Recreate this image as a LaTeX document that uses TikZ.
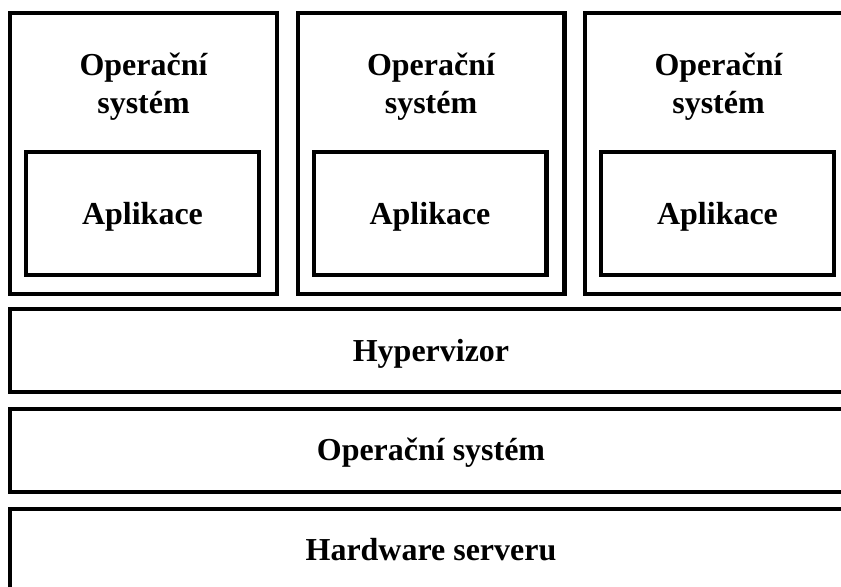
\documentclass[tikz,border=0pt]{standalone}
\usepackage{fontspec}
\setmainfont{Liberation Serif}
\usepackage{tikz}
\usetikzlibrary{positioning}

\tikzset{
  layerbox/.style={draw=black,line width=2.3pt,minimum width=16.86cm,
    minimum height=1.66cm,inner sep=0pt},
  vmbox/.style={draw=black,line width=2.3pt,minimum width=5.34cm,
    minimum height=5.62cm,inner sep=0pt},
  appbox/.style={draw=black,line width=2.3pt,minimum width=4.66cm,
    minimum height=2.46cm,inner sep=0pt},
  boxtext/.style={font=\fontsize{18.2}{21.8}\selectfont\bfseries,align=center}
}

\begin{document}
\begin{tikzpicture}[x=0.02cm,y=-0.02cm,line join=miter]
  \path[use as bounding box] (0,0) rectangle (841,587);
  \clip (0,0) rectangle (841,587);

  % Three virtual machines on top of the hypervisor.
  \foreach \i/\cx in {1/143.5,2/431,3/718.5} {
    \node[vmbox] (vm\i) at (\cx,153.5) {};
    \node[appbox] (app\i) at ({\cx-1},213.5) {};
    \node[boxtext] (guest\i) at (\cx,87) {Operační\\systém};
    \node[boxtext] at ([yshift=-3.5*0.02cm]app\i.center) {Aplikace};
  }

  % Lower layers run wider than the picture.
  \node[layerbox] (hyper) at (431.5,350.5) {};
  \node[boxtext] at (431,353.5) {Hypervizor};
  \node[layerbox] (hostos) at (431.5,450.5) {};
  \node[boxtext] at (431,453) {Operační systém};
  \node[layerbox] (hw) at (431.5,550.5) {};
  \node[boxtext] at (431,549.5) {Hardware serveru};
\end{tikzpicture}
\end{document}
